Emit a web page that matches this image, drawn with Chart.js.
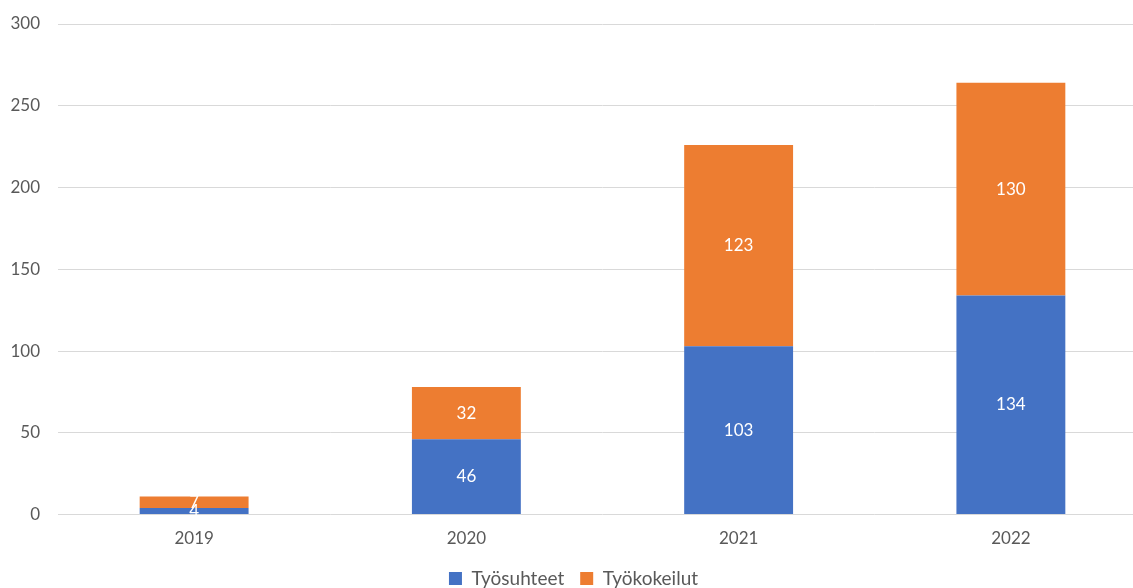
<!DOCTYPE html>
<html>
<head>
<meta charset="utf-8">
<script src="https://cdn.jsdelivr.net/npm/chart.js@4/dist/chart.umd.min.js"></script>
<style>
  html, body { margin: 0; padding: 0; background: #fff; overflow: hidden; }
  #wrap { position: absolute; left: 0; top: 0; width: 1148px; height: 588px; }
</style>
</head>
<body>
<div id="wrap"><canvas id="chart"></canvas></div>
<script>
const years = ['2019', '2020', '2021', '2022'];
const tyosuhteet = [4, 46, 103, 134];
const tyokokeilut = [7, 32, 123, 130];
const yTicks = [0, 50, 100, 150, 200, 250, 300];

const FONT = 'Lato, "Open Sans", sans-serif';

// white numbers in the middle of each bar segment
const barLabels = {
  id: 'barLabels',
  afterDatasetsDraw(chart) {
    const ctx = chart.ctx;
    ctx.save();
    ctx.fillStyle = '#fff';
    ctx.font = '17px ' + FONT;
    ctx.textAlign = 'center';
    ctx.textBaseline = 'middle';
    chart.data.datasets.forEach((ds, i) => {
      chart.getDatasetMeta(i).data.forEach((bar, j) => {
        const mid = (bar.y + bar.base) / 2;
        ctx.fillText(String(ds.data[j]), bar.x, mid);
      });
    });
    ctx.restore();
  }
};

new Chart(document.getElementById('chart'), {
  type: 'bar',
  data: {
    labels: years,
    datasets: [
      { label: 'Työsuhteet', data: tyosuhteet, backgroundColor: '#4472C4' },
      { label: 'Työkokeilut', data: tyokokeilut, backgroundColor: '#ED7D31' }
    ]
  },
  options: {
    responsive: true,
    maintainAspectRatio: false,
    animation: false,
    layout: { padding: { top: 24, right: 1, left: 0, bottom: -10 } },
    datasets: { bar: { barPercentage: 0.4, categoryPercentage: 1 } },
    scales: {
      x: {
        stacked: true,
        afterFit: s => { s.height -= 2; },
        grid: { display: false },
        border: { display: false },
        ticks: { color: '#595959', font: { family: FONT, size: 17 }, padding: 6 }
      },
      y: {
        stacked: true,
        min: 0,
        max: 300,
        afterBuildTicks: s => { s.ticks = yTicks.map(v => ({ value: v })); },
        afterFit: s => { s.width = 58; s.paddingTop = 0; s.paddingBottom = 0; },
        grid: { color: '#d9d9d9', drawTicks: false },
        border: { display: false },
        ticks: { color: '#595959', font: { family: FONT, size: 17 }, padding: 18 }
      }
    },
    plugins: {
      legend: {
        position: 'bottom',
        labels: {
          color: '#595959',
          font: { family: FONT, size: 19 },
          boxWidth: 13,
          boxHeight: 13,
          padding: 16
        }
      },
      tooltip: { enabled: false }
    }
  },
  plugins: [barLabels]
});
</script>
</body>
</html>
